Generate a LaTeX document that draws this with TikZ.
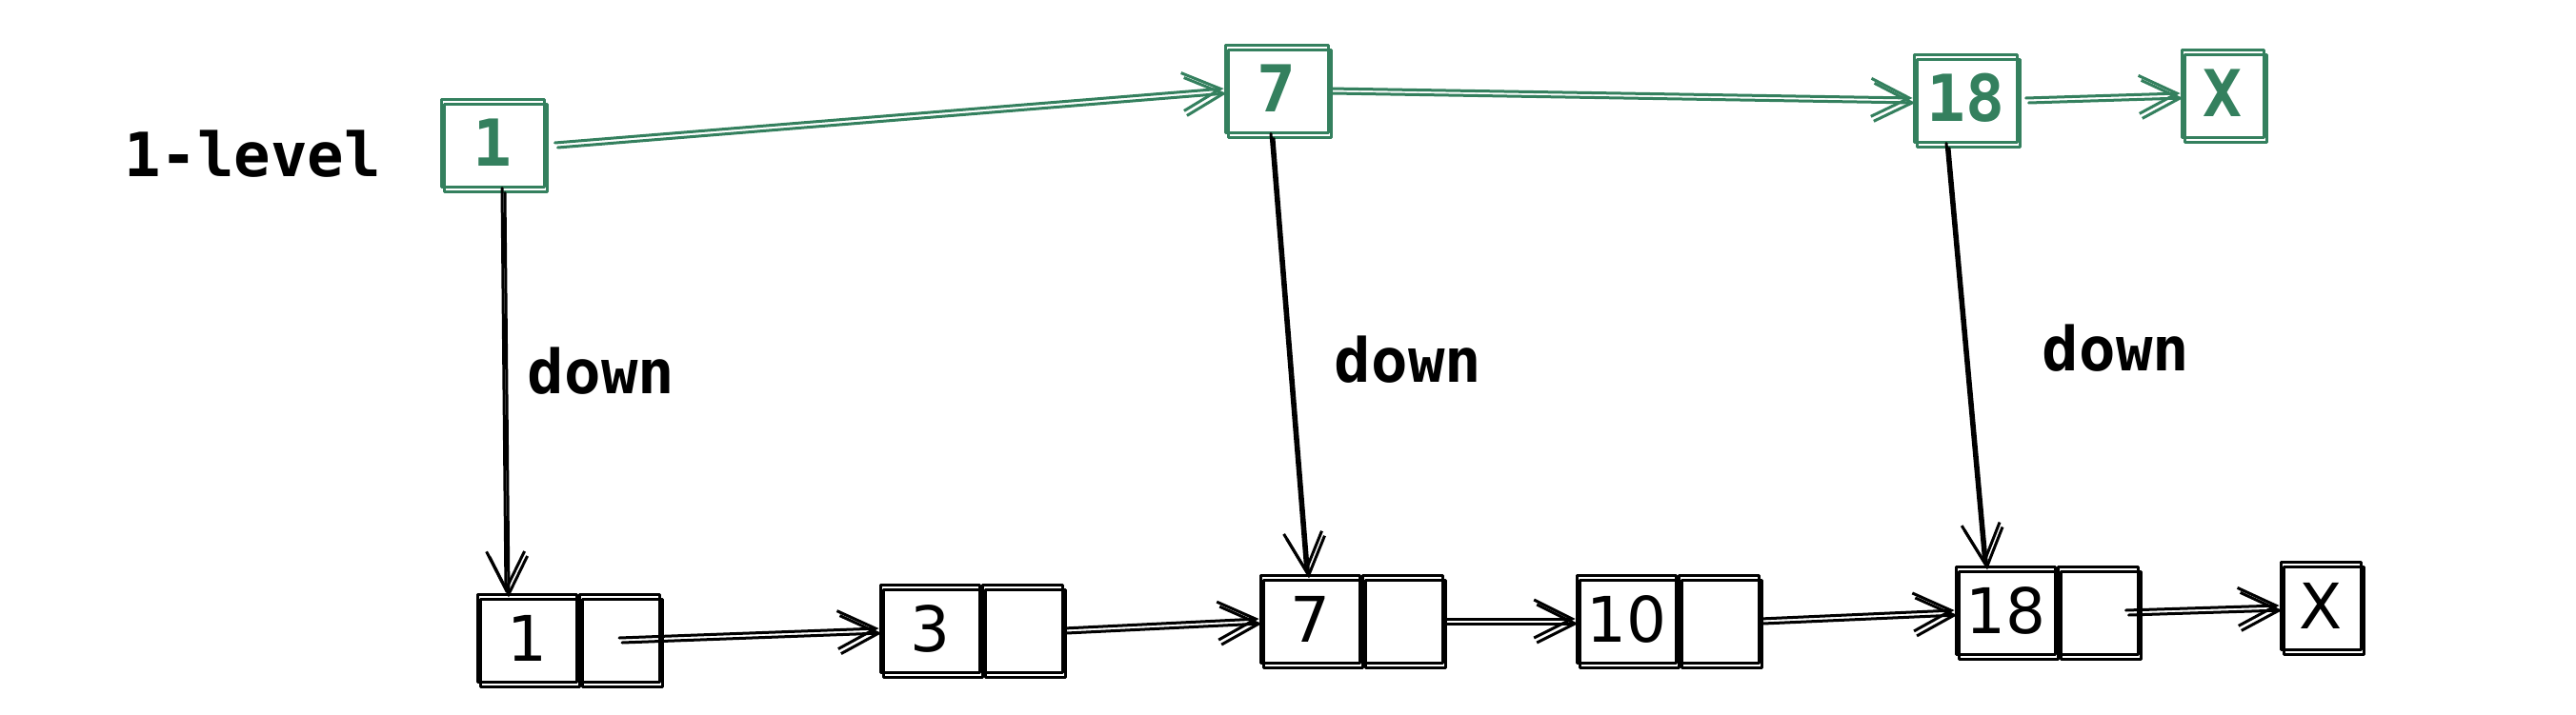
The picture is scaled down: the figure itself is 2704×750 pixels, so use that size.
\documentclass[tikz,border=0pt]{standalone}
\usepackage{fontspec}
\newfontfamily\monofont{DejaVu Sans Mono}
\newfontfamily\handfont{DejaVu Sans}
\usetikzlibrary{arrows.meta,positioning}
\definecolor{grn}{RGB}{52,128,94}
\begin{document}
\begin{tikzpicture}[x=1pt,y=-1pt,
 ink/.style={line width=3pt, line cap=round, line join=round},
 dbl/.style={postaction={draw, transform canvas={shift={(3pt,-5pt)}}}},
 gbox/.style={ink, draw=grn, text=grn, minimum width=108pt, minimum height=92pt, inner sep=0pt, font=\monofont\bfseries\fontsize{68}{68}\selectfont, dbl},
 cell/.style={ink, draw=black, minimum width=104pt, minimum height=92pt, inner sep=0pt, font=\handfont\fontsize{66}{66}\selectfont, dbl},
 ptr/.style={cell, minimum width=84pt},
 arr/.style={ink, -{Straight Barb[length=40pt,width=40pt]}, dbl},
 lbl/.style={font=\monofont\bfseries\fontsize{64}{64}\selectfont},
]
\useasboundingbox (0,0) rectangle (2704,750);
% top level
\node[lbl] (lv) at (265,162) {1-level};
\node[gbox] (t1) at (517,150) {1};
\node[gbox] (t7) at (1340,93) {7};
\node[gbox] (t18) at (2063,103) {18};
\node[gbox, minimum width=86pt] (tX) at (2333,98) {X};
% bottom level
\node[cell] (b1) at (553,670) {1};
\node[ptr, right=0pt of b1] (b1p) {};
\node[cell] (b3) at (976,660) {3};
\node[ptr, right=0pt of b3] (b3p) {};
\node[cell] (b7) at (1375,650) {7};
\node[ptr, right=0pt of b7] (b7p) {};
\node[cell] (b10) at (1707,650) {10};
\node[ptr, right=0pt of b10] (b10p) {};
\node[cell] (b18) at (2105,641) {18};
\node[ptr, right=0pt of b18] (b18p) {};
\node[cell, minimum width=84pt] (bX) at (2436,636) {X};
% labels
\node[lbl] (d1) at (631,390) {down};
\node[lbl] (d2) at (1478,378) {down};
\node[lbl] (d3) at (2221,366) {down};
% green arrows
\draw[arr, grn] ([xshift=10pt]t1.east) -- (t7.west);
\draw[arr, grn] (t7.east) -- (t18.west);
\draw[arr, grn] ([xshift=8pt]t18.east) -- (tX.west);
% down arrows
\draw[arr] ([xshift=10pt]t1.south) -- ([xshift=-22pt]b1.north);
\draw[arr] ([xshift=-6pt]t7.south) -- ([xshift=-4pt]b7.north);
\draw[arr] ([xshift=-20pt]t18.south) -- ([xshift=-22pt]b18.north);
% bottom arrows
\draw[arr] (b1p.center) -- (b3.west);
\draw[arr] (b3p.east) -- (b7.west);
\draw[arr] (b7p.east) -- (b10.west);
\draw[arr] (b10p.east) -- (b18.west);
\draw[arr] ([xshift=-14pt]b18p.east) -- (bX.west);
\end{tikzpicture}
\end{document}
